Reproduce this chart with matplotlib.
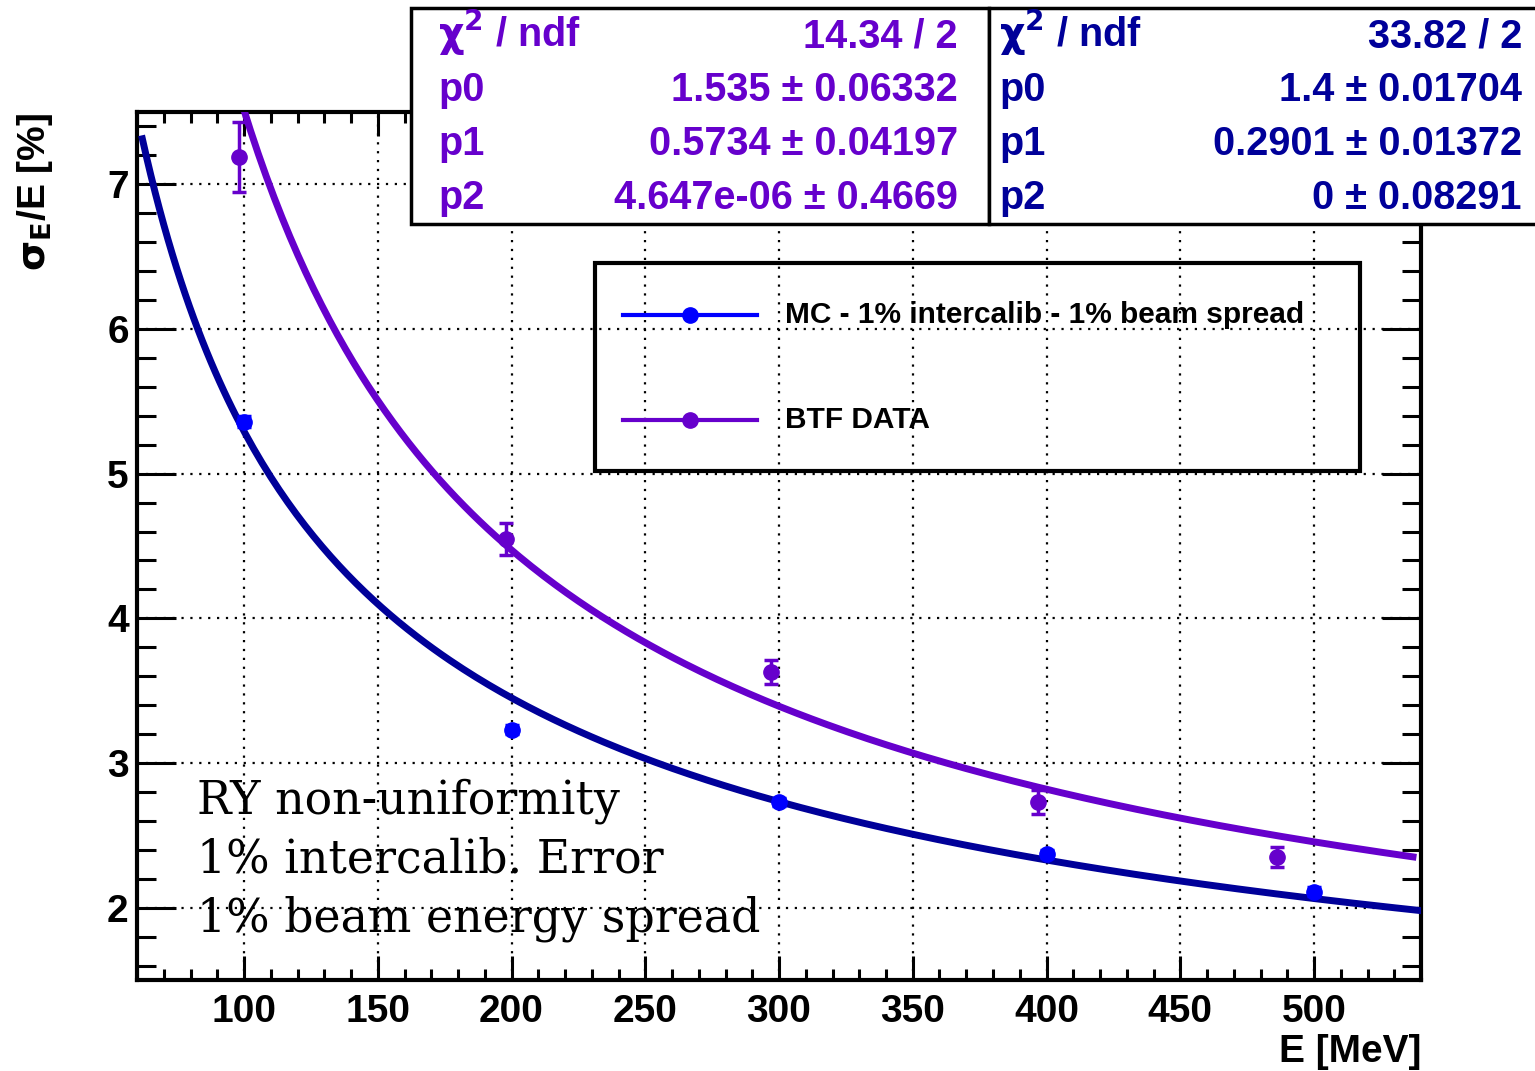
import numpy as np
import matplotlib.pyplot as plt
from matplotlib.patches import Rectangle
from matplotlib.lines import Line2D
from matplotlib.ticker import MultipleLocator

plt.rcParams['font.family'] = ['Liberation Sans', 'DejaVu Sans']
plt.rcParams['font.weight'] = 'bold'

# points
mc_E = [100, 200, 300, 400, 500]
mc_res = [5.36, 3.23, 2.73, 2.37, 2.11]
mc_err = [0.04, 0.03, 0.03, 0.03, 0.03]

btf_E = [98, 198, 297, 397, 486]
btf_res = [7.19, 4.55, 3.63, 2.73, 2.35]
btf_err = [0.24, 0.11, 0.085, 0.08, 0.07]

# fit parameters as printed in the stat boxes
mc_par = [1.4, 0.2901, 0.0]
btf_par = [1.535, 0.5734, 4.647e-06]
mc_range = [62, 540]
btf_range = [95, 537]

btf_stats = [(r'$\mathrm{\chi}^{2}$ / ndf', '14.34 / 2'),
             ('p0', '1.535 ± 0.06332'),
             ('p1', '0.5734 ± 0.04197'),
             ('p2', '4.647e-06 ± 0.4669')]
mc_stats = [(r'$\mathrm{\chi}^{2}$ / ndf', '33.82 / 2'),
            ('p0', '1.4 ± 0.01704'),
            ('p1', '0.2901 ± 0.01372'),
            ('p2', '0 ± 0.08291')]

notes = ['RY non-uniformity', '1% intercalib. Error', '1% beam energy spread']

BLUE = '#0000ff'
NAVY = '#000099'
PURPLE = '#6600cc'

W, H = 1535, 1071


def px(x, y):
    return x / W, 1 - y / H


def reso(E, p):
    e = np.asarray(E) / 1000.0
    return np.sqrt((p[0] / np.sqrt(e)) ** 2 + (p[1] / e) ** 2 + p[2] ** 2)


fig = plt.figure(figsize=(W / 100, H / 100), dpi=100)
ax = fig.add_axes([137 / W, 1 - 980 / H, 1284 / W, 868 / H])

# fit curves
e1 = np.linspace(mc_range[0], mc_range[1], 300)
ax.plot(e1, reso(e1, mc_par), color=NAVY, lw=5, zorder=3)
e2 = np.linspace(btf_range[0], btf_range[1], 300)
ax.plot(e2, reso(e2, btf_par), color=PURPLE, lw=5, zorder=3)

# data points
ax.errorbar(mc_E, mc_res, yerr=mc_err, fmt='o', color=BLUE, ms=11,
            elinewidth=2.5, capsize=5, capthick=2.5, zorder=4)
ax.errorbar(btf_E, btf_res, yerr=btf_err, fmt='o', color=PURPLE, ms=11,
            elinewidth=2.5, capsize=5, capthick=2.5, zorder=4)

ax.set_xlim(60, 540)
ax.set_ylim(1.5, 7.5)
ax.xaxis.set_major_locator(MultipleLocator(50))
ax.xaxis.set_minor_locator(MultipleLocator(10))
ax.yaxis.set_major_locator(MultipleLocator(1))
ax.yaxis.set_minor_locator(MultipleLocator(0.2))

ax.grid(True, which='major', color='black', linestyle=(0, (1, 3)), linewidth=1.6)
ax.tick_params(which='both', direction='in', top=True, right=True, width=2.2)
ax.tick_params(axis='x', which='major', length=17, pad=10, labelsize=28)
ax.tick_params(axis='x', which='minor', length=8)
ax.tick_params(axis='y', which='major', length=28, pad=6, labelsize=28)
ax.tick_params(axis='y', which='minor', length=14)
for s in ax.spines.values():
    s.set_linewidth(3)

fig.text(*px(1421, 1062), 'E [MeV]', ha='right', va='baseline', fontsize=28)
fig.text(*px(35, 113), r'$\mathrm{\sigma}_{\mathbf{E}}$/E [%]', rotation=90,
         ha='center', va='top', fontsize=28)

# annotation
for i, line in enumerate(notes):
    fig.text(*px(197, 813 + 59.5 * i), line, family='DejaVu Serif',
             fontweight='normal', fontsize=33, ha='left', va='baseline')

# legend (transparent, grid shows through)
x0, y0 = px(595, 471)
fig.add_artist(Rectangle((x0, y0), 765 / W, 208 / H, transform=fig.transFigure,
                         fill=False, edgecolor='black', lw=3, zorder=6))
leg = [(315, BLUE, 'MC - 1% intercalib - 1% beam spread'),
       (420, PURPLE, 'BTF DATA')]
for yy, col, lab in leg:
    fig.add_artist(Line2D([623 / W, 757 / W], [1 - yy / H] * 2,
                          transform=fig.transFigure, color=col, lw=3, zorder=6))
    fig.add_artist(Line2D([690 / W], [1 - yy / H], transform=fig.transFigure,
                          marker='o', ms=11, color=col, zorder=6))
    fig.text(*px(785, yy), lab, ha='left', va='center', fontsize=21.5, zorder=7)

# stat boxes
boxes = [(411, 989, 438, 958, btf_stats, PURPLE),
         (989, 1560, 999, 1522, mc_stats, NAVY)]
for bl, br, tl, tr, stats, col in boxes:
    bx, by = px(bl, 224)
    fig.add_artist(Rectangle((bx, by), (br - bl) / W, 216 / H,
                             transform=fig.transFigure, facecolor='white',
                             edgecolor='black', lw=2.5, zorder=10))
    for k, (name, val) in enumerate(stats):
        yb = 47 + 54 * k
        fig.text(*px(tl, yb), name, ha='left', va='baseline', fontsize=28.5,
                 color=col, zorder=11)
        fig.text(*px(tr, yb), val, ha='right', va='baseline', fontsize=28.5,
                 color=col, zorder=11)

fig.savefig('out.png', dpi=100)
